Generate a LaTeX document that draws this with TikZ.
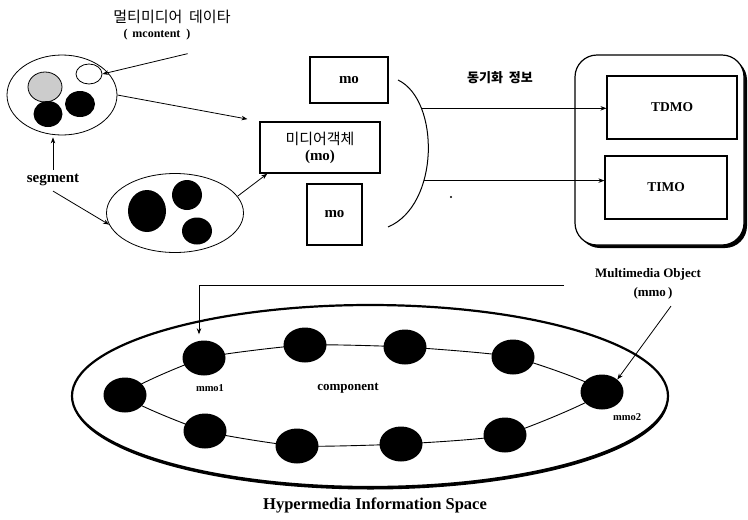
\documentclass[tikz,border=0pt]{standalone}
\usepackage{fontspec}
\setmainfont{Liberation Serif}
\newfontfamily\kr{Noto Sans CJK KR}
\usetikzlibrary{arrows.meta,shapes.geometric,shadows,calc,patterns}
\begin{document}
\begin{tikzpicture}[x=1pt,y=-1pt,
  arr/.style={-{Stealth[length=6pt,width=4.5pt]}, line width=0.8pt},
  box/.style={draw, line width=1.4pt, fill=white, inner sep=0pt,
    general shadow={fill=black, shadow xshift=1.2pt, shadow yshift=-1.2pt}},
  oval/.style={ellipse, draw, line width=0.8pt, inner sep=0pt},
  blob/.style={ellipse, fill=black, inner sep=0pt},
  lab/.style={font=\bfseries\fontsize{13}{15}\selectfont, inner sep=1pt},
  small/.style={font=\bfseries\fontsize{12}{14}\selectfont, inner sep=1pt},
  krt/.style={font=\kr\fontsize{15}{17}\selectfont, inner sep=1pt}]
\useasboundingbox (0,0) rectangle (748,520);

% ---- top-left: multimedia data
\node[krt] (title) at (172,17) {멀티미디어\ \ 데이타};
\node[small] (mcont) at (157,35) {(\ \,mcontent\ \ )};
\node[oval, minimum width=110pt, minimum height=80pt] (E1) at (62,95) {};
\node[oval, fill=black!20, minimum width=34pt, minimum height=30pt] (c1) at (45,87) {};
\node[oval, fill=white, minimum width=26pt, minimum height=20pt] (c2) at (89,74) {};
\node[blob, minimum width=29pt, minimum height=26pt] (c3) at (48,114) {};
\node[blob, minimum width=30pt, minimum height=26pt] (c4) at (80,104) {};

\node[font=\bfseries\fontsize{15}{17}\selectfont, inner sep=1pt] (seg) at (53,180) {segment};

\node[oval, minimum width=137pt, minimum height=79pt] (E2) at (175,213) {};
\node[blob, minimum width=38pt, minimum height=42pt] (c5) at (147,211) {};
\node[blob, minimum width=30pt, minimum height=30pt] (c6) at (187,195) {};
\node[blob, minimum width=30pt, minimum height=27pt] (c7) at (197,231) {};

% ---- media objects
\node[box, minimum width=78pt, minimum height=46pt, font=\bfseries\fontsize{15}{17}\selectfont] (mo1) at (349,80) {mo};
\node[box, minimum width=120pt, minimum height=51pt, align=center, font=\bfseries\fontsize{15}{20}\selectfont] (MO) at (320,147.5) {\raisebox{-3pt}{\kr\mdseries 미디어객체}\\[-1pt](mo)};
\node[box, minimum width=55pt, minimum height=61pt, font=\bfseries\fontsize{15}{17}\selectfont] (mo2) at (334.5,214.5) {mo};

\draw[arr] ([shift={(-4pt,-12pt)}]mcont.south east) -- (c2.east);
\draw[arr, shorten >=12pt] (E1.east) -- (MO.north west);
\draw[arr, shorten >=2pt] ([yshift=3pt]seg.north) -- (seg.north |- E1.south);
\draw[arr] ([yshift=-4pt]seg.south) -- (E2.190);
\draw[arr] (E2.15) -- ([xshift=8pt]MO.south west);

% ---- bracket and synchronisation
\coordinate (br1) at (398,80);
\coordinate (br2) at (388,227);
\draw[line width=1pt] (br1) .. controls (440,100) and (440,205) .. (br2)
  coordinate[pos=0.25] (a1) coordinate[pos=0.65] (a2);
\node[font=\kr\bfseries\fontsize{13}{15}\selectfont] (sync) at (500,78) {동기화\ \ 정보};
\fill (451,197) circle (1.1pt);

% ---- multimedia object box
\node[box, rounded corners=22pt, line width=1.2pt, minimum width=169pt, minimum height=190pt,
  general shadow={fill=black, shadow xshift=3pt, shadow yshift=-3pt}] (MMO) at (659.5,150) {};
\node[box, line width=1.1pt, minimum width=130pt, minimum height=63pt, font=\bfseries\fontsize{13.5}{15}\selectfont] (TDMO) at (672,107.5) {TDMO};
\node[box, line width=1.1pt, minimum width=122pt, minimum height=63pt, font=\bfseries\fontsize{13.5}{15}\selectfont] (TIMO) at (666,187.5) {TIMO};

\draw[arr] (a1) -- (a1 -| TDMO.west);
\draw[arr] (a2) -- (a2 -| TIMO.west);

\node[lab] (mmolab) at (648,274) {Multimedia Object};
\node[lab] (mmolab2) at (653,293) {(mmo\,)};

% ---- hypermedia information space
\node[ellipse, draw, fill=white, line width=2.2pt, minimum width=596pt, minimum height=182pt,
  general shadow={fill=black, shadow xshift=0.5pt, shadow yshift=-2.5pt}] (HIS) at (370,396) {};

\coordinate (p0) at (125,395);
\coordinate (p1) at (204,358);
\coordinate (p2) at (305,345);
\coordinate (p3) at (405,347);
\coordinate (p4) at (513,357);
\coordinate (p5) at (602,392);
\coordinate (p6) at (505,435);
\coordinate (p7) at (401,444);
\coordinate (p8) at (297,446);
\coordinate (p9) at (205,431);
\draw[line width=0.9pt] plot[smooth cycle, tension=0.3] coordinates {(p0) (p1) (p2) (p3) (p4) (p5) (p6) (p7) (p8) (p9)};

\foreach \i in {0,...,9} {
  \node[blob, minimum width=43pt, minimum height=35pt] (m\i) at (p\i) {};
}

\node[font=\bfseries\fontsize{10.5}{12}\selectfont] (mmo1) at (210,388) {mmo1};
\node[font=\bfseries\fontsize{10.5}{12}\selectfont] (mmo2) at (627,417) {mmo2};
\node[lab] (comp) at (348,388) {component};

\coordinate (hstart) at (564,285);
\draw[arr, shorten >=6pt] (hstart) -| ([xshift=-5pt]m1.north);
\draw[arr] ([xshift=18pt,yshift=-6pt]mmolab2.south) -- (m5.north east);

\node[font=\bfseries\fontsize{16.5}{18}\selectfont] (his) at (375,505) {Hypermedia Information Space};
\end{tikzpicture}
\end{document}
